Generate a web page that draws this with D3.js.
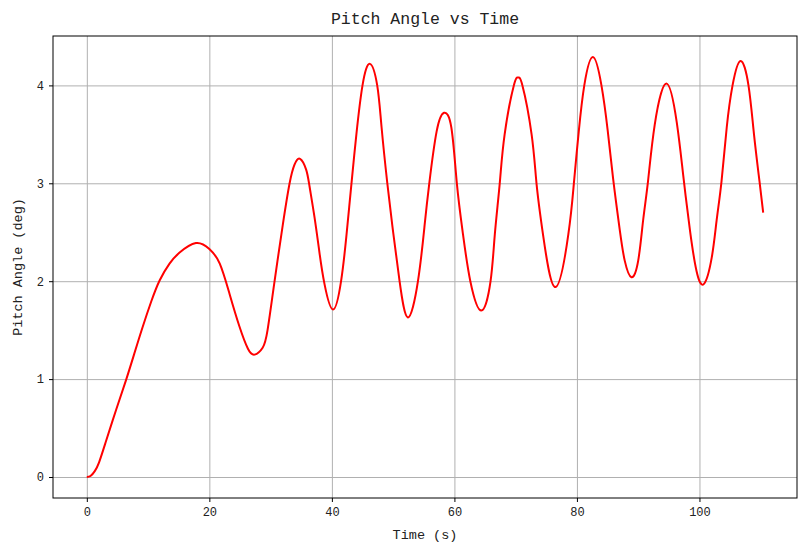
<!DOCTYPE html>
<html>
<head>
<meta charset="utf-8">
<script src="https://cdn.jsdelivr.net/npm/d3@7"></script>
<style>
  body { margin: 0; background: #fff; }
  svg { display: block; }
  text { font-family: "Liberation Mono", "DejaVu Sans Mono", monospace; fill: #222; }
  .grid line { stroke: #b0b0b0; stroke-width: 1; }
  .grid path { display: none; }
  .axis path, .axis line { stroke: #000; }
</style>
</head>
<body>
<div id="container"></div>
<script>
// Time samples (s)
const timeData = [0, 0.6, 1.3, 2.0, 3.1, 4.8, 6.4, 7.8, 9.1, 10.5, 11.9, 13.5, 15.1, 17.8,
  20.0, 21.7, 23.3, 24.9, 26.3, 27.4, 28.7, 29.5, 30.6, 32.0, 33.1, 33.9, 34.8, 35.8, 36.35,
  37.2, 38.0, 38.8, 40.2, 41.5, 42.35, 43.2, 44.0, 45.0, 46.2, 47.4, 48.1, 49.05, 50.0, 51.05,
  52.4, 54.05, 55.15, 55.9, 57.1, 58.3, 59.5, 60.4, 61.4, 62.6, 64.4, 65.9, 66.6,
  67.4, 68.2, 69.7, 70.4, 71.1, 72.6, 73.4, 74.5, 76.5, 78.6, 79.5, 80.3, 81.2,
  82.6, 84.0, 85.0, 85.9, 87.0, 87.8, 88.9, 90.0, 90.8, 91.6, 92.7, 94.6, 96.3, 97.35, 98.45,
  99.5, 100.7, 102.0, 102.8, 103.6, 104.45, 105.4, 106.7, 108.0, 108.9, 109.8, 110.4];
// Pitch angle (deg) at each time sample
const pitchData = [0, 0.01, 0.06, 0.15, 0.36, 0.69, 0.99, 1.27, 1.53, 1.79, 2.01, 2.18, 2.29, 2.39,
  2.33, 2.18, 1.87, 1.54, 1.31, 1.25, 1.32, 1.50, 1.98, 2.58, 3.0, 3.19, 3.25, 3.14, 2.97,
  2.64, 2.28, 1.97, 1.71, 2.0, 2.45, 3.0, 3.5, 4.0, 4.22, 4.0, 3.58, 3.0, 2.5, 2.0,
  1.63, 2.0, 2.58, 3.0, 3.53, 3.72, 3.57, 3.0, 2.48, 2.0, 1.70, 2.0, 2.48,
  3.0, 3.5, 4.0, 4.08, 4.0, 3.5, 3.0, 2.46, 1.94, 2.48, 3.0, 3.53, 4.0,
  4.29, 4.0, 3.55, 3.05, 2.52, 2.21, 2.04, 2.21, 2.62, 3.02, 3.6, 4.02, 3.62, 3.08, 2.52,
  2.11, 1.97, 2.24, 2.62, 3.02, 3.57, 4.0, 4.25, 4.0, 3.5, 3.02, 2.70];
const xTicks = [0, 20, 40, 60, 80, 100];
const yTicks = [0, 1, 2, 3, 4];

const W = 809, H = 555;
const margin = { top: 36, right: 12, bottom: 57, left: 53 };
const width = W - margin.left - margin.right;
const height = H - margin.top - margin.bottom;

const svg = d3.select('#container').append('svg')
  .attr('width', W).attr('height', H);
const chart = svg.append('g')
  .attr('transform', `translate(${margin.left}, ${margin.top})`);

// matplotlib-like 5% margins round the data
const xMin = d3.min(timeData), xMax = d3.max(timeData);
const yMin = d3.min(pitchData), yMax = d3.max(pitchData);
const xPad = (xMax - xMin) * 0.05, yPad = (yMax - yMin) * 0.05;
const xScale = d3.scaleLinear().domain([xMin - xPad, xMax + xPad]).range([0, width]);
const yScale = d3.scaleLinear().domain([yMin - yPad, yMax + yPad]).range([height, 0]);

// grid lines
chart.append('g').attr('class', 'grid')
  .attr('transform', `translate(0, ${height})`)
  .call(d3.axisBottom(xScale).tickValues(xTicks).tickSize(-height).tickFormat(''));
chart.append('g').attr('class', 'grid')
  .call(d3.axisLeft(yScale).tickValues(yTicks).tickSize(-width).tickFormat(''));

// the curve
const points = timeData.map((t, i) => [t, pitchData[i]]);
chart.append('path')
  .datum(points)
  .attr('fill', 'none')
  .attr('stroke', '#ff0000')
  .attr('stroke-width', 2)
  .attr('stroke-linejoin', 'round')
  .attr('d', d3.line()
    .x(d => xScale(d[0]))
    .y(d => yScale(d[1]))
    .curve(d3.curveNatural));

// frame
chart.append('rect')
  .attr('width', width).attr('height', height)
  .attr('fill', 'none').attr('stroke', '#000').attr('stroke-width', 1);

// axes
const xAxis = chart.append('g').attr('class', 'axis')
  .attr('transform', `translate(0, ${height})`)
  .call(d3.axisBottom(xScale).tickValues(xTicks).tickSize(4).tickPadding(5).tickFormat(d3.format('d')));
const yAxis = chart.append('g').attr('class', 'axis')
  .call(d3.axisLeft(yScale).tickValues(yTicks).tickSize(4).tickPadding(5).tickFormat(d3.format('d')));
[xAxis, yAxis].forEach(a => {
  a.select('.domain').remove();
  a.selectAll('text').attr('font-size', 12).style('fill', '#222');
});

// labels
svg.append('text')
  .attr('x', margin.left + width / 2)
  .attr('y', 539)
  .attr('text-anchor', 'middle')
  .attr('font-size', 13.5)
  .text('Time (s)');

svg.append('text')
  .attr('transform', `translate(22, ${margin.top + height / 2}) rotate(-90)`)
  .attr('text-anchor', 'middle')
  .attr('font-size', 13.5)
  .text('Pitch Angle (deg)');

svg.append('text')
  .attr('x', margin.left + width / 2)
  .attr('y', 24)
  .attr('text-anchor', 'middle')
  .attr('font-size', 16.5)
  .text('Pitch Angle vs Time');
</script>
</body>
</html>
